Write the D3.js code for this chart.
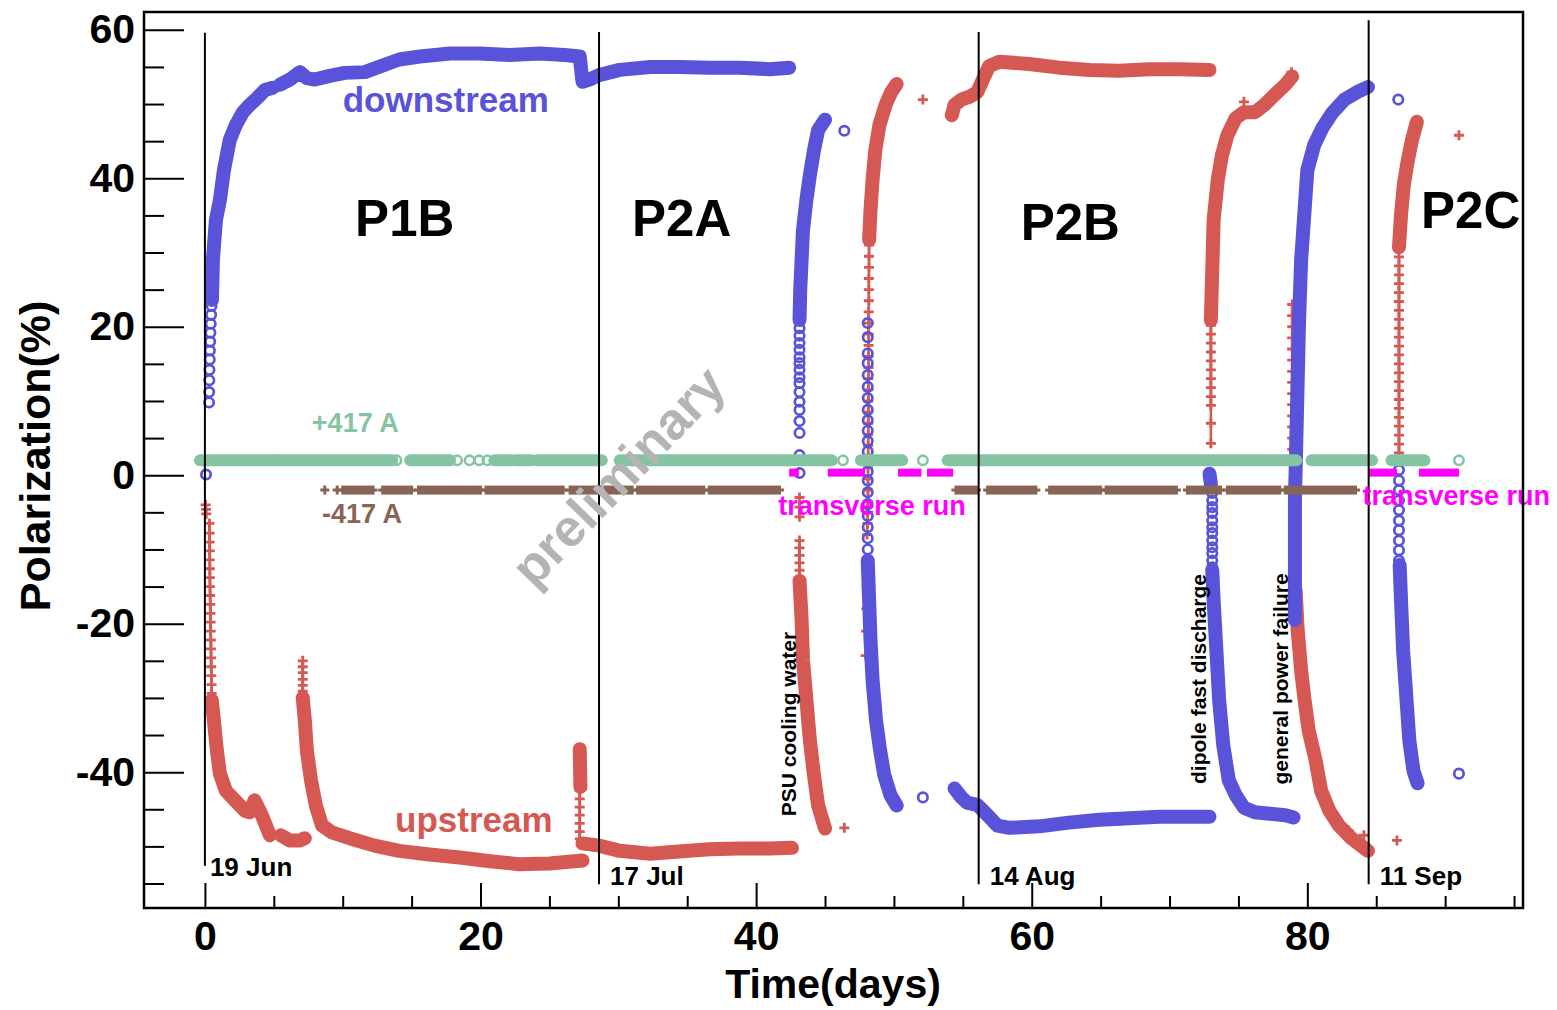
<!DOCTYPE html>
<html>

<head>
  <meta charset="utf-8">
  <style>
    body { margin: 0; background: #fff; }
    text { font-family: "Liberation Sans", Arial, Helvetica, sans-serif; font-weight: bold; }
  </style>
</head>

<body>
  <svg width="1557" height="1010"></svg>
  <script src="https://d3js.org/d3.v7.min.js"></script>
  <script>

    // ---- data: [day, polarization %] ----
    // downstream target cell, dense parts (drawn as a band)
    const downstreamDense = [
      [[0.51, 23.6], [0.58, 29.0], [0.80, 34.4], [1.09, 37.1], [1.38, 41.1], [1.81, 45.2], [2.25, 47.2], [2.76, 48.9],
       [3.26, 49.9], [3.84, 50.9], [4.35, 51.9], [4.93, 52.2]],
      [[5.44, 52.6], [6.16, 53.3], [6.89, 54.3], [7.40, 53.5], [7.98, 53.3], [9.06, 53.8], [10.15, 54.2], [11.6, 54.3],
       [13.05, 55.3], [14.1, 56.0], [15.6, 56.4], [17.8, 56.8], [19.9, 56.8], [22.1, 56.6], [24.3, 56.8], [26.1, 56.6],
       [27.2, 56.4], [27.4, 53.0], [27.9, 53.3], [28.6, 53.9], [30.1, 54.6], [32.3, 55.0], [34.4, 55.0], [36.6, 54.9],
       [38.8, 54.9], [41.0, 54.7], [42.4, 54.9]],
      [[43.15, 20.9], [43.2, 24.9], [43.3, 29.0], [43.4, 33.0], [43.65, 37.1], [43.9, 40.4], [44.2, 43.8], [44.5, 46.5], [45.0, 47.9]],
      [[48.1, -11.5], [48.2, -16.9], [48.3, -22.2], [48.45, -27.6], [48.7, -33.0], [49.0, -37.1], [49.3, -40.4], [49.75, -43.1], [50.2, -44.5]],
      [[54.4, -42.2], [54.9, -43.4], [55.3, -44.1], [56.05, -44.4], [56.8, -45.8], [57.5, -47.2], [58.4, -47.5], [60.55, -47.3],
       [62.7, -46.8], [64.9, -46.4], [67.1, -46.2], [69.25, -46.0], [71.4, -46.0], [72.9, -46.0]],
      [[72.9, 0.2], [73.0, -1.2]],
      [[73.1, -12.8], [73.2, -16.9], [73.4, -23.6], [73.6, -30.3], [73.9, -36.4], [74.3, -41.1], [74.8, -43.1], [75.4, -44.8],
       [76.2, -45.4], [77.3, -45.6], [78.4, -45.8], [79.0, -46.1]],
      [[79.1, -19.5], [79.1, -11.5], [79.1, -3.4], [79.2, 4.7], [79.3, 12.8], [79.4, 20.9], [79.55, 29.0], [79.8, 35.7],
       [80.0, 41.1], [80.5, 44.5], [81.1, 46.8], [81.8, 48.8], [82.7, 50.6], [83.6, 51.6], [84.4, 52.3]],
      [[86.7, -12.1], [86.8, -16.9], [86.95, -23.6], [87.2, -30.3], [87.4, -35.7], [87.7, -39.8], [88.0, -41.5]]
    ];

    // downstream, single markers (open circles)
    const downstreamSparse = [
      [0.08, 0.1], [0.3, 9.8], [0.31, 11.2], [0.32, 12.8], [0.33, 14.2], [0.35, 15.6], [0.36, 16.8], [0.38, 18.0],
      [0.4, 19.2], [0.42, 20.4], [0.45, 21.6], [0.48, 22.8],
      [43.15, 0.3], [43.15, 2.7], [43.15, 5.7], [43.15, 7.3], [43.15, 8.8], [43.15, 9.9], [43.15, 11.2], [43.15, 12.4],
      [43.15, 13.2], [43.15, 14.2], [43.15, 15.1], [43.15, 15.9], [43.15, 16.9], [43.15, 17.8], [43.15, 18.8], [43.15, 19.8],
      [46.4, 46.4],
      [48.1, 20.5], [48.1, 18.6], [48.1, 16.4], [48.1, 15.1], [48.1, 13.5], [48.1, 11.9], [48.1, 10.4], [48.1, 8.8],
      [48.1, 7.4], [48.1, 6.0], [48.1, 4.6], [48.1, 3.2], [48.1, 2.0], [48.1, 0.5], [48.1, -0.7], [48.1, -2.3],
      [48.1, -3.9], [48.1, -5.5], [48.1, -7.0], [48.1, -8.5], [48.1, -10.0],
      [52.1, -43.4],
      [73.1, -2.4], [73.1, -3.4], [73.1, -4.3], [73.1, -5.1], [73.1, -6.1], [73.1, -7.0], [73.1, -7.8], [73.1, -8.8],
      [73.1, -9.7], [73.1, -10.5], [73.1, -11.5], [73.1, -12.4],
      [86.6, 50.6],
      [86.65, 0.7], [86.65, -0.7], [86.65, -2.0], [86.65, -3.4], [86.65, -4.7], [86.65, -6.1], [86.65, -7.4],
      [86.65, -8.8], [86.65, -10.1], [86.65, -11.5],
      [91.0, -40.2]
    ];

    // upstream target cell, dense parts
    const upstreamDense = [
      [[0.5, -30.3], [0.65, -33.0], [0.87, -37.1], [1.09, -40.2], [1.52, -42.5], [2.18, -43.8], [2.9, -45.2], [3.26, -45.4],
       [3.6, -43.8], [4.13, -45.8], [4.71, -48.5]],
      [[5.5, -48.5], [6.16, -49.2], [6.9, -49.2], [7.25, -48.9]],
      [[7.1, -30.0], [7.25, -33.0], [7.4, -37.1], [7.7, -41.1], [8.05, -44.5], [8.5, -47.2], [9.2, -48.1], [10.5, -48.9],
       [12.3, -49.9], [14.1, -50.6], [16.3, -51.1], [18.5, -51.5], [20.7, -52.0], [22.8, -52.4], [25.0, -52.3], [27.4, -51.9]],
      [[27.2, -36.9], [27.25, -42.0]],
      [[27.4, -49.6], [28.6, -49.9], [30.1, -50.6], [32.3, -51.0], [34.4, -50.7], [36.6, -50.4], [38.8, -50.3], [41.0, -50.3], [42.6, -50.2]],
      [[43.15, -14.2], [43.3, -19.5], [43.4, -24.9], [43.65, -30.3], [43.9, -35.7], [44.2, -40.4], [44.5, -44.5], [45.0, -47.6]],
      [[48.2, 31.7], [48.3, 35.7], [48.45, 39.8], [48.65, 43.8], [48.95, 47.2], [49.4, 49.9], [49.8, 51.6], [50.2, 52.7]],
      [[54.2, 48.5], [54.4, 49.9], [54.9, 50.6], [55.5, 51.0], [56.05, 51.6], [56.5, 53.5], [56.9, 55.1], [57.65, 55.7],
       [59.8, 55.4], [62.0, 54.9], [64.2, 54.6], [66.35, 54.5], [68.5, 54.7], [70.7, 54.7], [72.9, 54.6]],
      [[73.0, 20.9], [73.1, 27.6], [73.2, 34.4], [73.5, 39.8], [73.8, 43.1], [74.2, 45.8], [74.8, 48.1], [75.4, 48.9],
       [76.2, 48.9], [76.9, 49.9], [77.6, 51.2], [78.4, 52.6], [78.9, 53.7]],
      [[79.15, -15.5], [79.3, -20.9], [79.55, -26.3], [79.8, -30.3], [80.1, -34.4], [80.6, -38.4], [81.0, -42.5],
       [81.6, -45.2], [82.3, -47.2], [83.2, -48.9], [83.9, -49.9], [84.4, -50.6]],
      [[86.65, 30.7], [86.8, 35.1], [87.0, 39.1], [87.3, 42.5], [87.6, 45.2], [87.95, 47.6]]
    ];

    // upstream, steep stretches where the crosses stand apart (stacked into a ladder)
    const upstreamColumns = [
      [[0.33, -6.5], [0.34, -7.8], [0.34, -9.0], [0.35, -10.2], [0.35, -11.4], [0.36, -12.6], [0.36, -13.8], [0.37, -15.0],
       [0.38, -16.2], [0.39, -17.4], [0.4, -18.6], [0.41, -19.8], [0.42, -21.0], [0.43, -22.2], [0.44, -23.4], [0.45, -24.6],
       [0.46, -25.8], [0.47, -27.0], [0.48, -28.2], [0.49, -29.4]],
      [[7.1, -25.0], [7.1, -25.8], [7.1, -26.6], [7.1, -27.5], [7.1, -28.3], [7.1, -29.1]],
      [[27.2, -42.5], [27.2, -43.6], [27.2, -44.7], [27.2, -45.8], [27.2, -46.9], [27.2, -48.0], [27.2, -49.0]],
      [[43.15, -3.0], [43.15, -4.3], [43.15, -5.6]],
      [[43.15, -8.8], [43.15, -9.8], [43.15, -10.8], [43.15, -11.8], [43.15, -12.8], [43.15, -13.8]],
      [[48.05, -8.0], [48.08, -6.5], [48.1, -5.0], [48.1, -3.5], [48.12, -2.0], [48.12, -0.5], [48.12, 1.0], [48.13, 2.5],
       [48.13, 4.0], [48.14, 5.5], [48.14, 7.0], [48.14, 8.5], [48.15, 10.0], [48.15, 11.5], [48.15, 13.0], [48.16, 14.5],
       [48.16, 16.0], [48.16, 17.5], [48.17, 19.0], [48.17, 20.5], [48.17, 22.0], [48.18, 23.5], [48.18, 25.0], [48.18, 26.5],
       [48.19, 28.0], [48.19, 29.5], [48.2, 31.0]],
      [[73.0, 4.3], [73.0, 7.0], [73.0, 9.4], [73.0, 10.6], [73.0, 11.8], [73.0, 13.0], [73.0, 14.2], [73.0, 15.4],
       [73.0, 16.6], [73.0, 17.8], [73.0, 19.0], [73.0, 20.2]],
      [[78.9, 23.0], [78.9, 21.5], [78.9, 20.0], [78.9, 18.5], [78.9, 17.0], [78.9, 15.5], [78.9, 14.0], [78.9, 12.5],
       [78.9, 11.0], [78.9, 9.5], [78.9, 8.0], [78.9, 6.5], [78.9, 5.0], [78.9, 3.5]],
      [[86.65, 3.0], [86.65, 4.2], [86.65, 5.4], [86.65, 6.6], [86.65, 7.8], [86.65, 9.0], [86.65, 10.2], [86.65, 11.4],
       [86.65, 12.6], [86.65, 13.8], [86.65, 15.0], [86.65, 16.2], [86.65, 17.4], [86.65, 18.6], [86.65, 19.8], [86.65, 21.0],
       [86.65, 22.2], [86.65, 23.4], [86.65, 24.6], [86.65, 25.8], [86.65, 27.0], [86.65, 28.2], [86.65, 29.4]]
    ];

    // upstream, isolated crosses
    const upstreamSingles = [
      [0.05, -4.0], [0.08, -4.6], [0.1, -5.2],
      [46.4, -47.5],
      [47.95, -24.3], [47.98, -21.0], [48.0, -18.0], [48.02, -15.0], [48.05, -12.0],
      [52.1, 50.6],
      [75.4, 50.3], [78.85, 54.3],
      [83.0, -47.9], [83.6, -49.0], [84.1, -48.5],
      [86.5, -49.2],
      [91.0, 45.8]
    ];

    // magnet current +417 A (circles) and -417 A (crosses): [first day, last day] of dense runs
    const plusCurrentLevel = 2.0;
    const plusCurrentRuns = [[-0.36, 5.1], [5.2, 13.6], [14.9, 17.8], [21.0, 22.3], [22.6, 23.7], [24.1, 28.8], [30.1, 42.6],
      [42.8, 45.5], [47.6, 50.6], [53.9, 79.2], [80.3, 84.7], [86.1, 88.5]];
    const plusCurrentSingles = [13.9, 18.3, 19.2, 19.9, 20.5, 46.3, 52.1, 91.0];
    const minusCurrentLevel = -2.0;
    const minusCurrentRuns = [[10.0, 12.2], [12.9, 15.0], [15.5, 20.0], [20.4, 26.0], [26.5, 31.0], [31.4, 36.2], [36.6, 41.7],
      [54.5, 56.0], [56.8, 60.3], [61.3, 65.0], [65.4, 70.5], [71.3, 73.7], [74.2, 78.0], [78.4, 83.5]];
    const minusCurrentSingles = [8.7, 9.6];

    // transverse runs
    const transverseLevel = 0.35;
    const transverseRuns = [[42.4, 43.1], [45.2, 47.9], [50.3, 52.0], [52.4, 54.3], [84.4, 86.5], [88.1, 91.0]];

    // period boundaries: [day, top, bottom, date label]
    const periods = [[0, 59.6, -52.6, "19 Jun"], [28.6, 59.7, -55.1, "17 Jul"], [56.15, 59.7, -55.1, "14 Aug"], [84.45, 61.3, -55.1, "11 Sep"]];
    const periodNames = ["P1B", "P2A", "P2B", "P2C"];

    const xMajorTicks = [0, 20, 40, 60, 80];
    const xMinorTicks = [5, 10, 15, 25, 30, 35, 45, 50, 55, 65, 70, 75, 85, 90, 95];
    const yMajorTicks = [-40, -20, 0, 20, 40, 60];
    const yMinorTicks = [-55, -50, -45, -35, -30, -25, -15, -10, -5, 5, 10, 15, 25, 30, 35, 45, 50, 55];

    const blue = "#5853d8";
    const red = "#d55852";
    const green = "#84c4a2";
    const brown = "#886454";
    const magenta = "#ff00ff";

    const width = 1557;
    const height = 1010;
    const frame = { left: 144, right: 1523, top: 12, bottom: 908 };

    const svg = d3.select("svg")
      .attr("viewBox", [0, 0, width, height]);

    const x = d3.scaleLinear().domain([-4.42, 95.65]).range([frame.left, frame.right]);
    const y = d3.scaleLinear().domain([-58.3, 62.4]).range([frame.bottom, frame.top]);

    const line = d3.line().x(d => x(d[0])).y(d => y(d[1]));
    const cross = (g, size) => g.attr("d", d => {
      const cx = x(d[0]), cy = y(d[1]), h = size / 2;
      return `M${cx - h},${cy}H${cx + h}M${cx},${cy - h}V${cy + h}`;
    });

    // axes
    const gx = svg.append("g").attr("transform", `translate(0,${frame.bottom})`);
    gx.append("g")
      .call(d3.axisBottom(x).tickValues(xMinorTicks).tickSize(-12).tickFormat(""))
      .call(g => g.select(".domain").remove());
    gx.append("g")
      .call(d3.axisBottom(x).tickValues(xMajorTicks).tickSize(-25).tickPadding(13).tickFormat(d => String(d)))
      .call(g => g.select(".domain").remove())
      .call(g => g.selectAll("text").attr("font-size", 41).attr("fill", "#000"));
    gx.selectAll("line").attr("stroke", "#000").attr("stroke-width", 2);

    const gy = svg.append("g").attr("transform", `translate(${frame.left},0)`);
    gy.append("g")
      .call(d3.axisLeft(y).tickValues(yMinorTicks).tickSize(-20).tickFormat(""))
      .call(g => g.select(".domain").remove());
    gy.append("g")
      .call(d3.axisLeft(y).tickValues(yMajorTicks).tickSize(-40).tickPadding(9).tickFormat(d => String(d)))
      .call(g => g.select(".domain").remove())
      .call(g => g.selectAll("text").attr("font-size", 41).attr("fill", "#000"));
    gy.selectAll("line").attr("stroke", "#000").attr("stroke-width", 2);

    // upstream
    svg.append("g")
      .selectAll("path")
      .data(upstreamDense)
      .join("path")
      .attr("d", line)
      .attr("fill", "none")
      .attr("stroke", red)
      .attr("stroke-width", 14)
      .attr("stroke-linecap", "round")
      .attr("stroke-linejoin", "round");
    const gc = svg.append("g").attr("stroke", red);
    gc.selectAll("path.rail")
      .data(upstreamColumns)
      .join("path")
      .attr("class", "rail")
      .attr("d", line)
      .attr("fill", "none")
      .attr("stroke-width", 2.5);
    gc.selectAll("path.mark")
      .data(upstreamColumns.flat().concat(upstreamSingles))
      .join("path")
      .attr("class", "mark")
      .call(cross, 10)
      .attr("stroke-width", 2.8);

    // downstream
    svg.append("g")
      .selectAll("path")
      .data(downstreamDense)
      .join("path")
      .attr("d", line)
      .attr("fill", "none")
      .attr("stroke", blue)
      .attr("stroke-width", 14)
      .attr("stroke-linecap", "round")
      .attr("stroke-linejoin", "round");
    svg.append("g")
      .selectAll("circle")
      .data(downstreamSparse)
      .join("circle")
      .attr("cx", d => x(d[0]))
      .attr("cy", d => y(d[1]))
      .attr("r", 4.7)
      .attr("fill", "none")
      .attr("stroke", blue)
      .attr("stroke-width", 2.7);

    // +417 A
    svg.append("g")
      .selectAll("rect")
      .data(plusCurrentRuns)
      .join("rect")
      .attr("x", d => x(d[0]) - 6)
      .attr("y", y(plusCurrentLevel) - 6)
      .attr("width", d => x(d[1]) - x(d[0]) + 12)
      .attr("height", 12)
      .attr("rx", 6)
      .attr("fill", green);
    svg.append("g")
      .selectAll("circle")
      .data(plusCurrentSingles)
      .join("circle")
      .attr("cx", d => x(d))
      .attr("cy", y(plusCurrentLevel))
      .attr("r", 4.7)
      .attr("fill", "none")
      .attr("stroke", green)
      .attr("stroke-width", 2.6);

    // -417 A
    const gm = svg.append("g").attr("fill", brown);
    gm.selectAll("rect.arm")
      .data(minusCurrentRuns)
      .join("rect")
      .attr("class", "arm")
      .attr("x", d => x(d[0]) - 4.5)
      .attr("y", y(minusCurrentLevel) - 1.5)
      .attr("width", d => x(d[1]) - x(d[0]) + 9)
      .attr("height", 3);
    gm.selectAll("rect.body")
      .data(minusCurrentRuns)
      .join("rect")
      .attr("class", "body")
      .attr("x", d => x(d[0]) - 1.5)
      .attr("y", y(minusCurrentLevel) - 4.5)
      .attr("width", d => x(d[1]) - x(d[0]) + 3)
      .attr("height", 9);
    gm.selectAll("path")
      .data(minusCurrentSingles.map(d => [d, minusCurrentLevel]))
      .join("path")
      .call(cross, 9)
      .attr("stroke", brown)
      .attr("stroke-width", 3);

    // transverse runs
    svg.append("g")
      .selectAll("rect")
      .data(transverseRuns)
      .join("rect")
      .attr("x", d => x(d[0]))
      .attr("y", y(transverseLevel) - 4)
      .attr("width", d => x(d[1]) - x(d[0]))
      .attr("height", 8)
      .attr("fill", magenta);

    // period boundaries and dates
    const gp = svg.append("g");
    gp.selectAll("line")
      .data(periods)
      .join("line")
      .attr("x1", d => x(d[0]))
      .attr("x2", d => x(d[0]))
      .attr("y1", d => y(d[1]))
      .attr("y2", d => y(d[2]))
      .attr("stroke", "#000")
      .attr("stroke-width", 2);
    gp.selectAll("text")
      .data(periods)
      .join("text")
      .attr("x", (d, i) => x(d[0]) + (i === 0 ? 5 : 11))
      .attr("y", (d, i) => y(d[2]) + (i === 0 ? 10 : 1))
      .attr("font-size", 26)
      .text(d => d[3]);

    const nameDays = [10.9, 31.0, 59.2, 88.25];
    const nameLevels = [32.2, 32.2, 31.7, 33.3];
    svg.append("g")
      .selectAll("text")
      .data(periodNames)
      .join("text")
      .attr("x", (d, i) => x(nameDays[i]))
      .attr("y", (d, i) => y(nameLevels[i]))
      .attr("font-size", 51)
      .text(d => d);

    // labels
    const labels = svg.append("g");
    labels.append("text").attr("x", x(10.0)).attr("y", y(48.9)).attr("font-size", 35).attr("fill", blue).text("downstream");
    labels.append("text").attr("x", x(13.8)).attr("y", y(-48.1)).attr("font-size", 35).attr("fill", red).text("upstream");
    labels.append("text").attr("x", x(7.76)).attr("y", y(5.8)).attr("font-size", 27).attr("fill", green).text("+417 A");
    labels.append("text").attr("x", x(8.5)).attr("y", y(-6.5)).attr("font-size", 27).attr("fill", brown).text("-417 A");
    labels.append("text").attr("x", x(41.6)).attr("y", y(-5.3)).attr("font-size", 27).attr("fill", magenta).text("transverse run");
    labels.append("text").attr("x", x(84.0)).attr("y", y(-4.0)).attr("font-size", 27).attr("fill", magenta).text("transverse run");

    const events = [["PSU cooling water", 796, 724], ["dipole fast discharge", 1206, 679], ["general power failure", 1288, 679]];
    labels.selectAll("text.event")
      .data(events)
      .join("text")
      .attr("class", "event")
      .attr("transform", d => `translate(${d[1]},${d[2]}) rotate(-90)`)
      .attr("text-anchor", "middle")
      .attr("font-size", 21)
      .text(d => d[0]);

    labels.append("text")
      .attr("transform", "translate(618,476) rotate(-46)")
      .attr("text-anchor", "middle")
      .attr("dy", "0.35em")
      .attr("font-size", 52)
      .attr("fill", "#b4b4b4")
      .text("preliminary");

    // frame
    svg.append("rect")
      .attr("x", frame.left)
      .attr("y", frame.top)
      .attr("width", frame.right - frame.left)
      .attr("height", frame.bottom - frame.top)
      .attr("fill", "none")
      .attr("stroke", "#000")
      .attr("stroke-width", 2.5);

    // axis titles
    svg.append("text")
      .attr("x", 833)
      .attr("y", 998)
      .attr("text-anchor", "middle")
      .attr("font-size", 41)
      .text("Time(days)");
    svg.append("text")
      .attr("transform", "translate(50,456) rotate(-90)")
      .attr("text-anchor", "middle")
      .attr("font-size", 43)
      .text("Polarization(%)");

  </script>
</body>

</html>
